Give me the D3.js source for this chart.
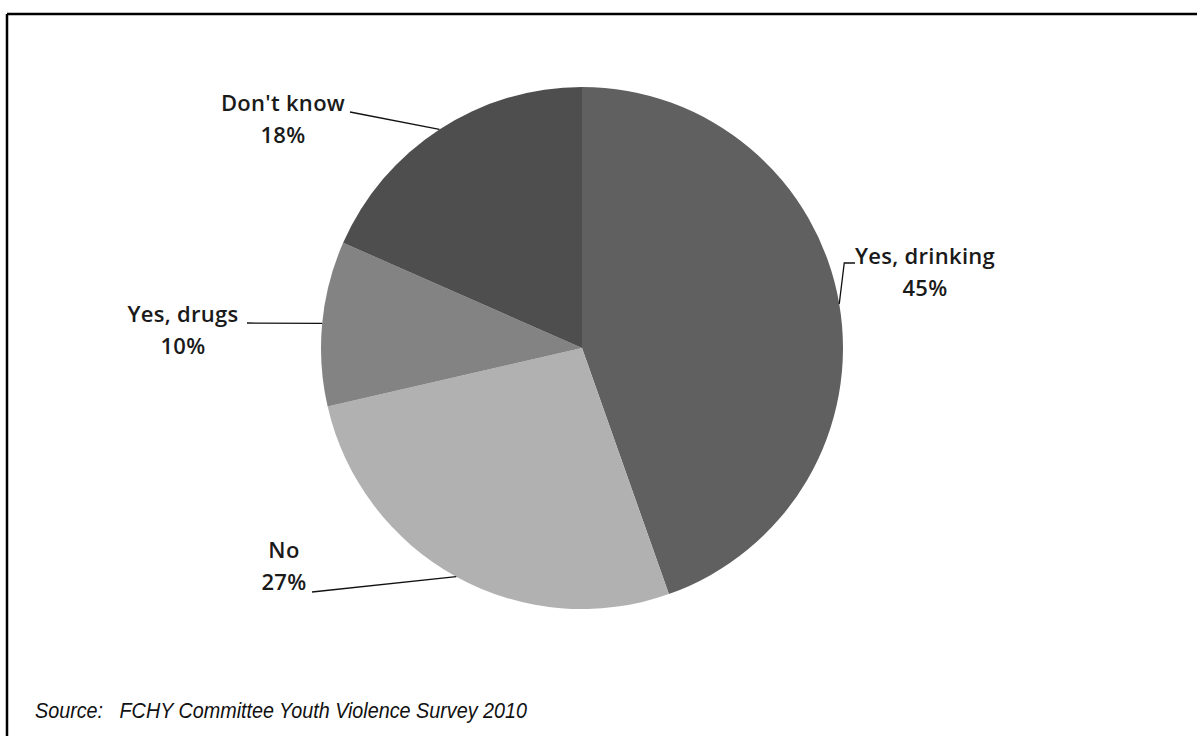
<!DOCTYPE html>
<html>
<head>
<meta charset="utf-8">
<script src="https://cdn.jsdelivr.net/npm/d3@7"></script>
<style>
  html, body { margin: 0; padding: 0; background: #fff; }
  svg { display: block; }
</style>
</head>
<body>
<svg id="chart" width="1197" height="736"></svg>
<script>
// ---- data ----
const categories = ["Yes, drinking", "No", "Yes, drugs", "Don't know"];
const values = [44.6, 26.8, 10.2, 18.4];
const percentLabels = ["45%", "27%", "10%", "18%"];
const sourceText = "Source:   FCHY Committee Youth Violence Survey 2010";

// ---- styles / layout ----
const colors = ["#606060", "#b1b1b1", "#838383", "#4e4e4e"];
const W = 1197, H = 736;
const cx = 582, cy = 348, R = 261;
// label placement (text centre x, first baseline y) and leader start
const labelLayout = [
  { tx: 925, ty: 264, anchorX: 855, anchorY: 263, elbow: true },
  { tx: 284, ty: 558, anchorX: 312, anchorY: 592 },
  { tx: 183, ty: 322, anchorX: 247, anchorY: 323 },
  { tx: 283, ty: 111, anchorX: 350, anchorY: 112 }
];

const svg = d3.select("#chart");

// frame (top and left edges)
svg.append("line").attr("x1", 7).attr("y1", 14).attr("x2", W).attr("y2", 14)
  .attr("stroke", "#000").attr("stroke-width", 2.5);
svg.append("line").attr("x1", 7).attr("y1", 14).attr("x2", 7).attr("y2", H)
  .attr("stroke", "#000").attr("stroke-width", 2.5);

const data = categories.map((c, i) => ({ name: c, value: values[i], pct: percentLabels[i], i }));

const pie = d3.pie().value(d => d.value).sort(null);
const arcs = pie(data);
const arc = d3.arc().innerRadius(0).outerRadius(R);

const g = svg.append("g").attr("transform", `translate(${cx},${cy})`);
g.selectAll("path.slice").data(arcs).join("path")
  .attr("class", "slice")
  .attr("d", arc)
  .attr("fill", d => colors[d.data.i])
  .attr("stroke", "none");

// leader lines
arcs.forEach(a => {
  const mid = (a.startAngle + a.endAngle) / 2;
  const ex = cx + R * Math.sin(mid);
  const ey = cy - R * Math.cos(mid);
  const L = labelLayout[a.data.i];
  let pts;
  if (L.elbow) {
    pts = [[L.anchorX, L.anchorY], [ex + 5, L.anchorY], [ex, ey]];
  } else {
    pts = [[L.anchorX, L.anchorY], [ex, ey]];
  }
  svg.append("path")
    .attr("d", d3.line()(pts))
    .attr("fill", "none")
    .attr("stroke", "#111")
    .attr("stroke-width", 1.3);
});

// labels
arcs.forEach(a => {
  const L = labelLayout[a.data.i];
  const t = svg.append("text")
    .attr("x", L.tx).attr("y", L.ty)
    .attr("text-anchor", "middle")
    .attr("font-family", "'Open Sans', Lato, sans-serif")
    .attr("font-weight", 600)
    .attr("font-size", 22)
    .attr("letter-spacing", 0.3)
    .attr("fill", "#1a1a1a");
  t.append("tspan").attr("x", L.tx).attr("dy", 0).text(a.data.name);
  t.append("tspan").attr("x", L.tx).attr("dy", 32).text(a.data.pct);
});

// source
svg.append("text")
  .attr("x", 35).attr("y", 718)
  .attr("font-family", "'Liberation Sans Narrow', 'Arial Narrow', 'Liberation Sans', sans-serif")
  .attr("font-style", "italic")
  .attr("font-size", 22.5)
  .attr("textLength", 492)
  .attr("lengthAdjust", "spacingAndGlyphs")
  .attr("fill", "#111")
  .style("white-space", "pre")
  .text(sourceText);
</script>
</body>
</html>
